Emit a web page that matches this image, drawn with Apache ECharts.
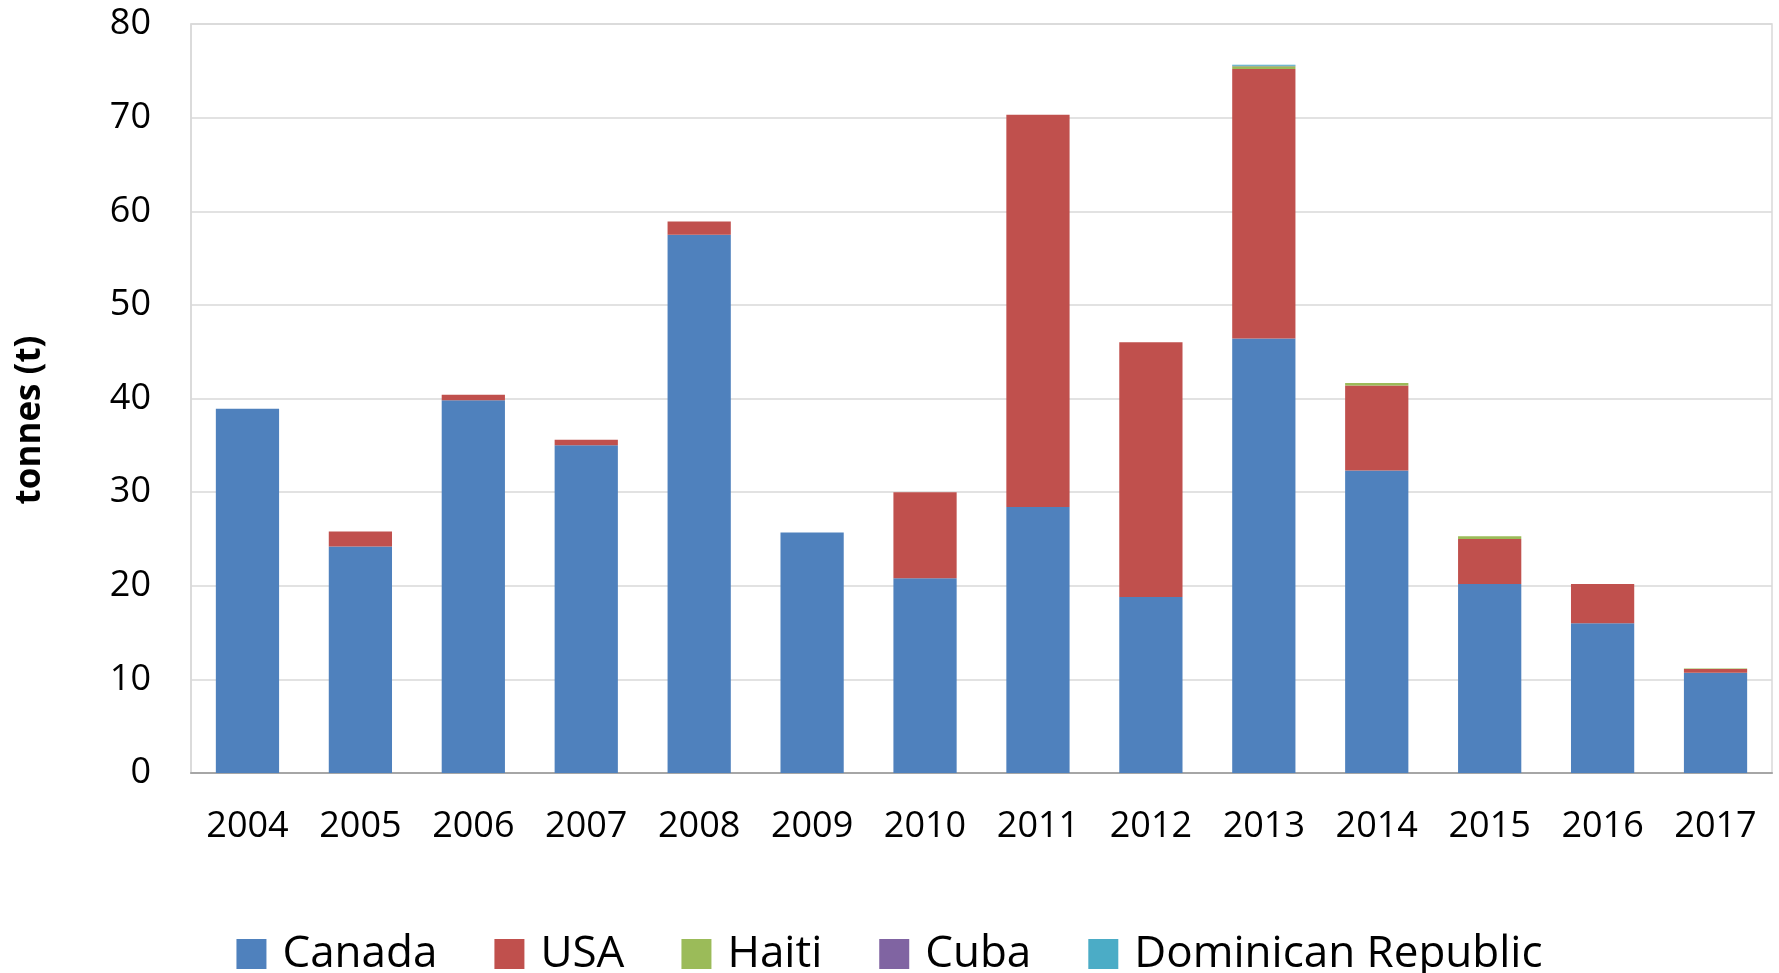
<!DOCTYPE html>
<html>
<head>
<meta charset="utf-8">
<script src="https://cdn.jsdelivr.net/npm/echarts@6/dist/echarts.min.js"></script>
<style>
  html, body { margin: 0; padding: 0; background: #fff; }
  #chart { width: 1779px; height: 973px; }
</style>
</head>
<body>
<div id="chart"></div>
<script>
const years = ['2004', '2005', '2006', '2007', '2008', '2009', '2010', '2011', '2012', '2013', '2014', '2015', '2016', '2017'];
const canada = [38.9, 24.2, 39.8, 35.0, 57.5, 25.7, 20.8, 28.4, 18.8, 46.4, 32.3, 20.2, 16.0, 10.7];
const usa = [0, 1.6, 0.6, 0.6, 1.4, 0, 9.2, 41.9, 27.2, 28.8, 9.1, 4.8, 4.2, 0.4];
const haiti = [0, 0, 0, 0, 0, 0, 0, 0, 0, 0.3, 0.25, 0.3, 0, 0.05];
const cuba = [0, 0, 0, 0, 0, 0, 0, 0, 0, 0.05, 0, 0, 0, 0];
const dominicanRepublic = [0, 0, 0, 0, 0, 0, 0, 0, 0, 0.1, 0, 0, 0, 0];
const yTicks = [0, 10, 20, 30, 40, 50, 60, 70, 80];

const font = 'Open Sans';
const chart = echarts.init(document.getElementById('chart'));

const makeSeries = (name, data, color) => ({
  name,
  type: 'bar',
  stack: 'total',
  data,
  barWidth: '56%',
  itemStyle: { color },
  emphasis: { disabled: true },
});

chart.setOption({
  animation: false,
  grid: {
    left: 191,
    right: 7,
    top: 24,
    bottom: 200,
    show: true,
    borderColor: '#d9d9d9',
    borderWidth: 1.5,
  },
  legend: {
    top: 927,
    left: 'center',
    itemWidth: 30,
    itemHeight: 30,
    itemGap: 57,
    icon: 'rect',
    textStyle: { fontFamily: font, fontSize: 44, color: '#000', padding: [0, 0, 0, 11] },
    data: ['Canada', 'USA', 'Haiti', 'Cuba', 'Dominican Republic'],
  },
  graphic: [{
    type: 'text',
    x: 30,
    y: 420,
    rotation: Math.PI / 2,
    style: {
      text: 'tonnes (t)',
      fontFamily: font,
      fontWeight: 'bold',
      fontSize: 35,
      fill: '#000',
      align: 'center',
      verticalAlign: 'middle',
    },
  }],
  xAxis: {
    type: 'category',
    data: years,
    axisTick: { show: false },
    axisLine: { lineStyle: { color: '#a6a6a6', width: 2 } },
    axisLabel: { fontFamily: font, fontSize: 36, color: '#000', margin: 36 },
  },
  yAxis: {
    type: 'value',
    min: yTicks[0],
    max: yTicks[yTicks.length - 1],
    interval: 10,
    axisLine: { show: true, lineStyle: { color: '#d9d9d9', width: 1.5 } },
    axisTick: { show: false },
    axisLabel: { fontFamily: font, fontSize: 36, color: '#000', margin: 40 },
    splitLine: { lineStyle: { color: '#d9d9d9', width: 1.5 } },
  },
  series: [
    makeSeries('Canada', canada, '#4f81bd'),
    makeSeries('USA', usa, '#c0504d'),
    makeSeries('Haiti', haiti, '#9bbb59'),
    makeSeries('Cuba', cuba, '#8064a2'),
    makeSeries('Dominican Republic', dominicanRepublic, '#4bacc6'),
  ],
});
</script>
</body>
</html>
